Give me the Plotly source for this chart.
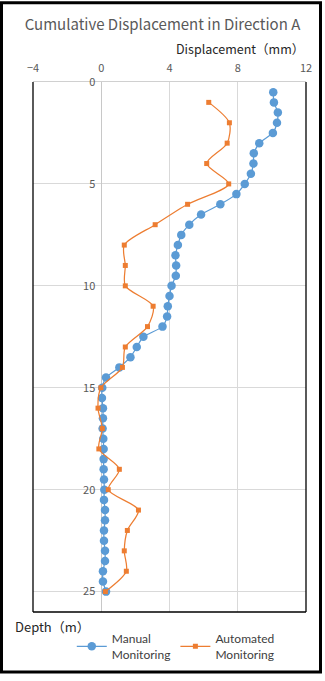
import plotly.graph_objects as go

# Manual monitoring (every 0.5 m)
manual_depth = [0.5, 1.0, 1.5, 2.0, 2.5, 3.0, 3.5, 4.0, 4.5, 5.0,
                5.5, 6.0, 6.5, 7.0, 7.5, 8.0, 8.5, 9.0, 9.5, 10.0,
                10.5, 11.0, 11.5, 12.0, 12.5, 13.0, 13.5, 14.0, 14.5, 15.0,
                15.5, 16.0, 16.5, 17.0, 17.5, 18.0, 18.5, 19.0, 19.5, 20.0,
                20.5, 21.0, 21.5, 22.0, 22.5, 23.0, 23.5, 24.0, 24.5, 25.0]
manual_disp = [10.08, 10.12, 10.35, 10.30, 10.06, 9.26, 8.94, 8.92, 8.77, 8.41,
               7.92, 6.98, 5.85, 5.16, 4.69, 4.49, 4.35, 4.39, 4.37, 4.12,
               4.00, 3.90, 3.86, 3.59, 2.47, 2.08, 1.71, 1.06, 0.28, 0.06,
               0.04, 0.10, 0.10, 0.08, 0.12, 0.14, 0.14, 0.14, 0.16, 0.18,
               0.16, 0.22, 0.22, 0.16, 0.16, 0.22, 0.22, 0.10, 0.10, 0.28]

# Automated monitoring (every 1 m)
auto_depth = [1, 2, 3, 4, 5, 6, 7, 8, 9, 10, 11, 12, 13,
              14, 15, 16, 17, 18, 19, 20, 21, 22, 23, 24, 25]
auto_disp = [6.30, 7.51, 7.38, 6.18, 7.47, 5.06, 3.16, 1.35, 1.41, 1.41, 3.04, 2.71, 1.41,
             1.24, -0.02, -0.19, 0.06, -0.14, 1.06, 0.41, 2.18, 1.53, 1.35, 1.47, 0.24]

x_ticks = [-4, 0, 4, 8, 12]
y_ticks = [0, 5, 10, 15, 20, 25]

FONT = "Noto Sans CJK SC, Noto Sans, sans-serif"
LEG_FONT = "Lato, Noto Sans, sans-serif"
BLUE = "#5b9bd5"
ORANGE = "#ed7d31"

fig = go.Figure()
fig.add_trace(go.Scatter(
    x=manual_disp, y=manual_depth, mode="lines+markers",
    name="Manual<br>Monitoring",
    line=dict(color=BLUE, width=1.25, shape="spline", smoothing=0.6),
    marker=dict(symbol="circle", size=8.5, color=BLUE),
))
fig.add_trace(go.Scatter(
    x=auto_disp, y=auto_depth, mode="lines+markers",
    name="Automated<br>Monitoring",
    line=dict(color=ORANGE, width=1.25, shape="spline", smoothing=0.8),
    marker=dict(symbol="square", size=5, color=ORANGE),
))

L, R, T, B = 33, 19, 82, 64
W, H = 325, 681
pw, ph = W - L - R, H - T - B

def px(xp):
    return (xp - L) / pw

def py(yp):
    return (H - B - yp) / ph

fig.update_layout(
    width=W, height=H,
    margin=dict(l=L, r=R, t=T, b=B),
    paper_bgcolor="white", plot_bgcolor="white",
    font=dict(family=FONT, color="#595959"),
    title=dict(text="Cumulative Displacement in Direction A",
               x=0.5, xanchor="center", xref="container",
               y=1 - 25 / H, yanchor="middle", yref="container",
               font=dict(size=15, color="#595959", family=FONT)),
    xaxis=dict(range=[-4, 12], tickvals=x_ticks, side="top",
               showgrid=True, gridcolor="#d9d9d9", gridwidth=1,
               zeroline=True, zerolinecolor="#c8c8c8", zerolinewidth=1,
               showline=True, linecolor="#d0d0d0", linewidth=1,
               ticks="", tickfont=dict(size=11, color="#595959"),
               ticklabelstandoff=5, fixedrange=True),
    yaxis=dict(range=[26, 0], tickvals=y_ticks, anchor="free", position=0.25,
               showgrid=True, gridcolor="#d9d9d9", gridwidth=1,
               zeroline=False, showline=False,
               ticks="", tickfont=dict(size=11, color="#595959"),
               ticklabelstandoff=6, fixedrange=True),
    legend=dict(orientation="h", x=0.523, xanchor="center",
                y=py(652), yanchor="middle",
                font=dict(size=12, color="#404040", family=LEG_FONT),
                itemwidth=30, tracegroupgap=0),
    showlegend=True,
)

fig.add_annotation(text="Displacement（mm）", xref="paper", yref="paper",
                   x=px(306), xanchor="right", y=py(48), yanchor="middle",
                   showarrow=False, font=dict(size=12.5, color="#262626", family=FONT))
fig.add_annotation(text="Depth（m）", xref="paper", yref="paper",
                   x=px(13), xanchor="left", y=py(632), yanchor="middle",
                   showarrow=False, font=dict(size=13, color="#262626", family=FONT))

# plot-area frame (left, right, bottom black)
for (x0, y0, x1, y1) in [(0, 0, 0, 1), (1, 0, 1, 1), (0, 0, 1, 0)]:
    fig.add_shape(type="line", xref="x domain", yref="y domain",
                  x0=x0, y0=y0, x1=x1, y1=y1,
                  line=dict(color="black", width=1.3))

# outer chart border
fig.add_shape(type="rect", xref="paper", yref="paper",
              x0=px(1.5), x1=px(320.5), y0=py(677.5), y1=py(2),
              line=dict(color="black", width=3), layer="above")

fig.write_html("out.html")
